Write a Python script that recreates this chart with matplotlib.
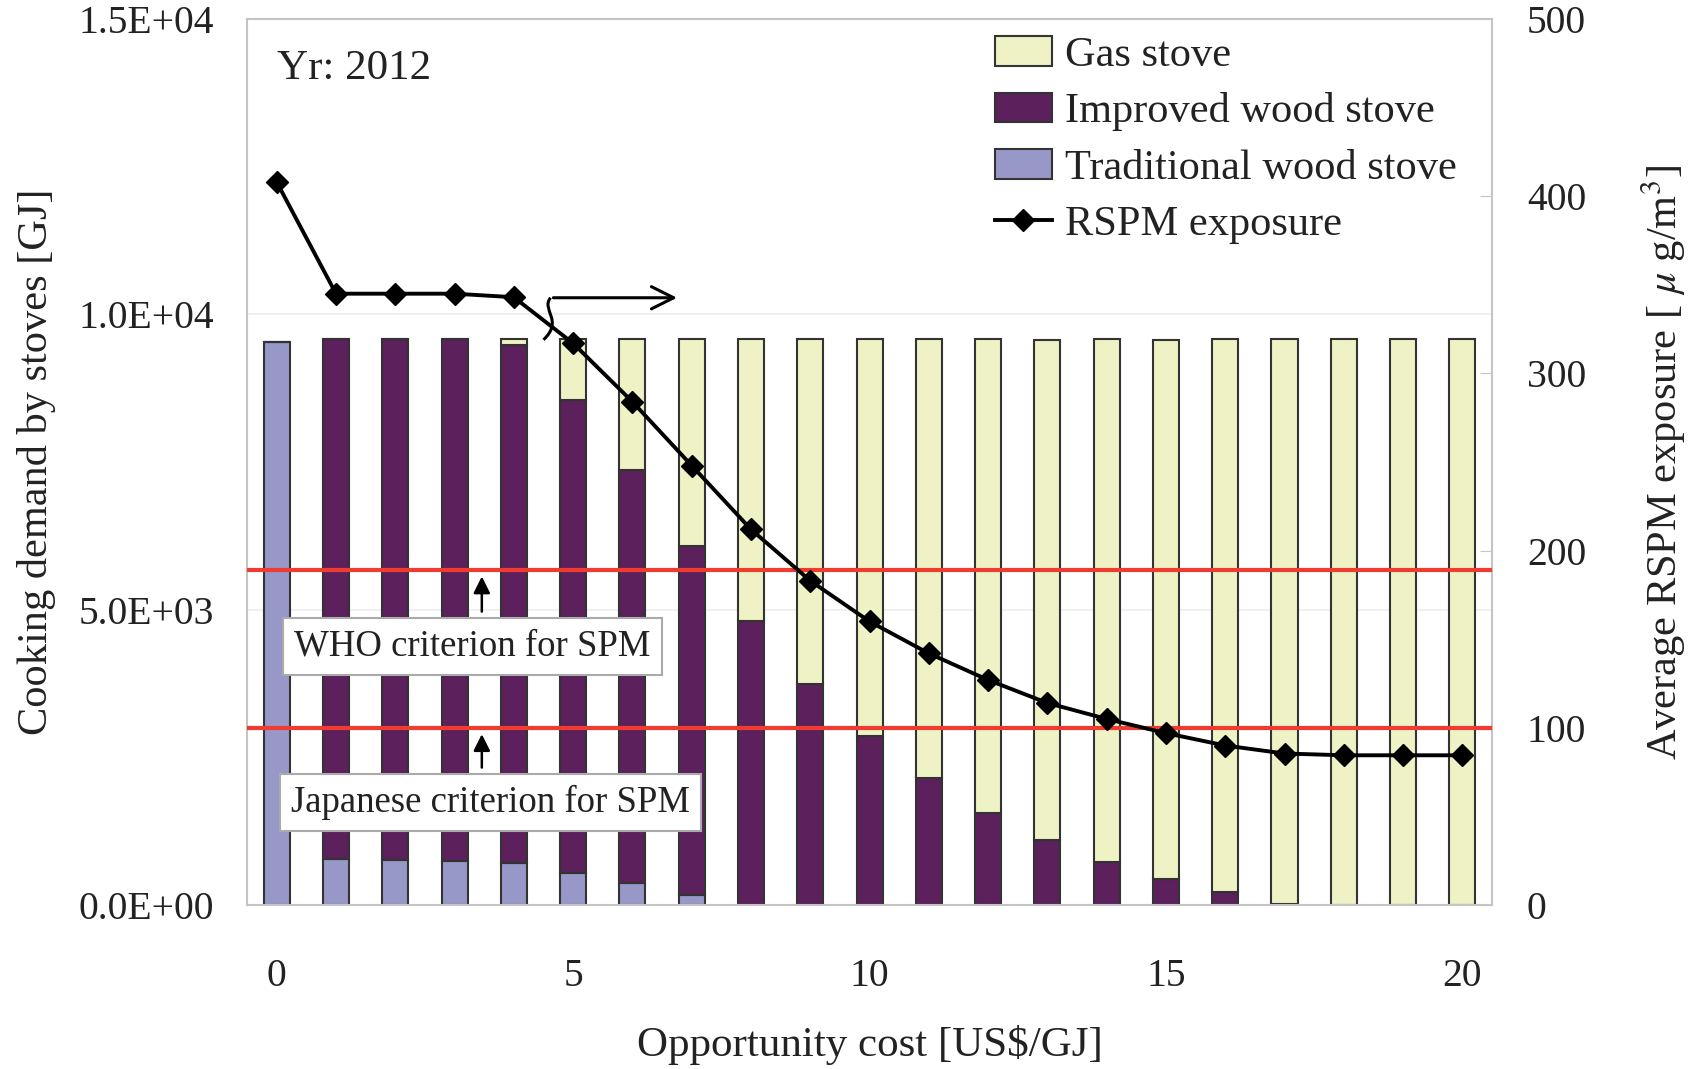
import numpy as np
import matplotlib
matplotlib.use('Agg')
import matplotlib.pyplot as plt
from matplotlib.path import Path
from matplotlib.patches import PathPatch, Patch
from matplotlib.lines import Line2D

# Data
cost = np.arange(0, 21)
traditional = [9530, 780, 760, 745, 705, 545, 365, 170, 0, 0, 0,
               0, 0, 0, 0, 0, 0, 0, 0, 0, 0]
improved = [0, 8810, 8830, 8835, 8775, 8010, 7000, 5910, 4800, 3735, 2860,
            2145, 1555, 1100, 735, 440, 215, 25, 0, 0, 0]
gas = [0, 0, 0, 0, 110, 1035, 2225, 3510, 4790, 5855, 6720,
       7445, 8035, 8460, 8855, 9130, 9375, 9555, 9590, 9590, 9590]
rspm = [408, 345, 345, 345, 343, 317, 284, 248, 212, 183, 160,
        142, 127, 114, 105, 97, 90, 85.5, 84.5, 84.5, 84.5]
who_limit = 189
japan_limit = 100

plt.rcParams['font.family'] = ['Liberation Serif', 'DejaVu Serif']
plt.rcParams['mathtext.fontset'] = 'stix'

c_trad = '#9898c8'
c_impr = '#5c205c'
c_gas = '#eff2c4'
edge = '#333333'
frame = '#c4c4c4'
txt = '#222222'

fig = plt.figure(figsize=(16.98, 10.69), dpi=100)
ax = fig.add_axes([0.1455, 0.1534, 0.7332, 0.8288])

w = 0.44
bot2 = np.array(traditional) + np.array(improved)
ax.bar(cost, traditional, w, color=c_trad, edgecolor=edge, linewidth=1.5, zorder=2)
ax.bar(cost, improved, w, bottom=traditional, color=c_impr, edgecolor=edge, linewidth=1.5, zorder=2)
ax.bar(cost, gas, w, bottom=bot2, color=c_gas, edgecolor=edge, linewidth=1.5, zorder=2)

ax.set_xlim(-0.5, 20.5)
ax.set_ylim(0, 15000)
ax.set_yticks([0, 5000, 10000, 15000])
ax.set_yticklabels(['0.0E+00', '5.0E+03', '1.0E+04', '1.5E+04'])
ax.set_xticks([0, 5, 10, 15, 20])
ax.tick_params(axis='both', length=0, labelsize=28.5, colors=txt)
ax.tick_params(axis='y', pad=24)
ax.tick_params(axis='x', pad=38)
ax.yaxis.grid(True, color='#eeeeee', linewidth=1.2)
ax.set_axisbelow(True)
for s in ax.spines.values():
    s.set_color(frame)
    s.set_linewidth(1.5)

ax.set_xlabel('Opportunity cost [US$/GJ]', fontsize=31, color=txt, labelpad=22)
ax.set_ylabel('Cooking demand by stoves [GJ]', fontsize=30.5, color=txt, labelpad=16)

ax2 = ax.twinx()
ax2.set_ylim(0, 500)
ax2.set_yticks([0, 100, 200, 300, 400, 500])
ax2.tick_params(axis='y', direction='in', length=9, color=frame, labelsize=28.5,
                labelcolor=txt, pad=25)
for s in ax2.spines.values():
    s.set_visible(False)
ax2.set_ylabel(r'Average RSPM exposure [ $\mu$ g/m$^3$]', fontsize=30.5,
               color=txt, labelpad=38)

# criteria lines
ax2.axhline(who_limit, color='#f03c30', linewidth=3, zorder=3)
ax2.axhline(japan_limit, color='#f03c30', linewidth=3, zorder=3)

ax2.plot(cost, rspm, color='black', linewidth=2.8, marker='D', markersize=11, zorder=5)

box = dict(boxstyle='square,pad=0.3', facecolor='white', edgecolor='#aaaaaa', linewidth=1.5)
ax2.text(3.3, 146, 'WHO criterion for SPM', fontsize=26.5, ha='center', va='center',
         bbox=box, zorder=6, color=txt)
ax2.text(3.6, 58, 'Japanese criterion for SPM', fontsize=26.5, ha='center', va='center',
         bbox=box, zorder=6, color=txt)
ax2.annotate('', xy=(3.46, 187), xytext=(3.46, 164),
             arrowprops=dict(arrowstyle='-|>', color='black', lw=1.8, mutation_scale=25), zorder=6)
ax2.annotate('', xy=(3.46, 98), xytext=(3.46, 76),
             arrowprops=dict(arrowstyle='-|>', color='black', lw=1.8, mutation_scale=25), zorder=6)

# arrow pointing to the right axis
ax2.annotate('', xy=(6.8, 342.7), xytext=(4.62, 342.7),
             arrowprops=dict(arrowstyle='->', color='black', lw=2.2, mutation_scale=40), zorder=6)
hook = Path([(4.62, 342.7), (4.45, 336), (4.85, 330), (4.5, 319)],
            [Path.MOVETO, Path.CURVE4, Path.CURVE4, Path.CURVE4])
ax2.add_patch(PathPatch(hook, facecolor='none', edgecolor='black', lw=2.2, zorder=6))

ax2.text(0.024, 0.944, 'Yr: 2012', transform=ax2.transAxes, fontsize=31,
         ha='left', va='center', color=txt)

handles = [Patch(facecolor=c_gas, edgecolor=edge, linewidth=1.5, label='Gas stove'),
           Patch(facecolor=c_impr, edgecolor=edge, linewidth=1.5, label='Improved wood stove'),
           Patch(facecolor=c_trad, edgecolor=edge, linewidth=1.5, label='Traditional wood stove'),
           Line2D([], [], color='black', linewidth=2.8, marker='D', markersize=11, label='RSPM exposure')]
leg = ax2.legend(handles=handles, loc='upper left', bbox_to_anchor=(0.587, 1.0),
                 frameon=False, fontsize=30.5, handlelength=1.35, handleheight=0.7,
                 handletextpad=0.3, labelspacing=0.42, borderaxespad=0.0,
                 labelcolor=txt)
leg.set_zorder(10)

plt.savefig('out.png', dpi=100)
